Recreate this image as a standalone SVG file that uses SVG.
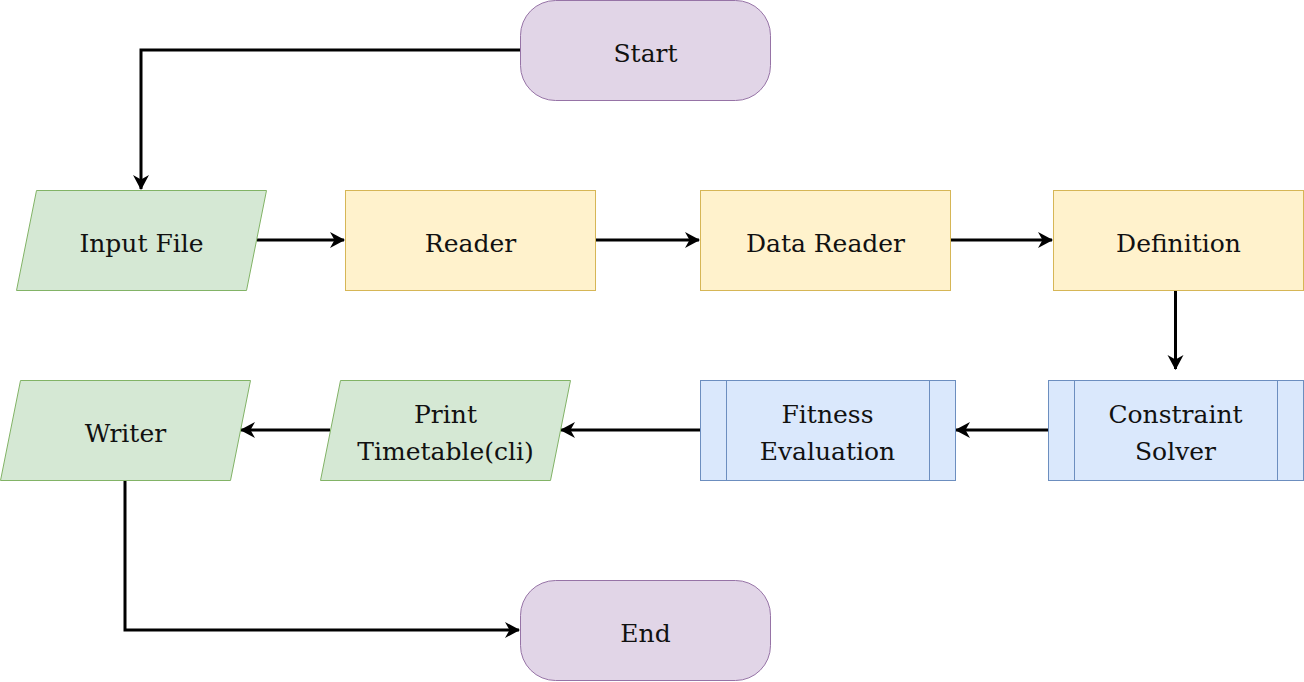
<svg xmlns="http://www.w3.org/2000/svg" width="1304" height="682" viewBox="0 0 1304 682">
<defs>
<style>
.t{font-family:"DejaVu Serif","Liberation Serif",serif;font-size:25px;fill:#111;text-anchor:middle}
.p{fill:#e1d5e7;stroke:#9673a6;stroke-width:1}
.g{fill:#d5e8d4;stroke:#82b366;stroke-width:1}
.y{fill:#fff2cc;stroke:#d6b656;stroke-width:1}
.b{fill:#dae8fc;stroke:#6c8ebf;stroke-width:1}
.c{fill:none;stroke:#000;stroke-width:3}
</style>
<marker id="a" markerUnits="userSpaceOnUse" viewBox="0 0 15 17" refX="14" refY="8.5" markerWidth="15" markerHeight="17" orient="auto">
<path d="M0,0.5 L15,8.5 L0,16.5 L4.5,8.5 Z" fill="#000"/>
</marker>
</defs>
<g id="connectors">
<path class="c" d="M520,50 H141 V189" marker-end="url(#a)"/>
<path class="c" d="M257,240 H344" marker-end="url(#a)"/>
<path class="c" d="M595,240 H699" marker-end="url(#a)"/>
<path class="c" d="M950,240 H1052" marker-end="url(#a)"/>
<path class="c" d="M1175.5,290 V369" marker-end="url(#a)"/>
<path class="c" d="M1048,430 H956" marker-end="url(#a)"/>
<path class="c" d="M700,430 H561" marker-end="url(#a)"/>
<path class="c" d="M330,430 H241" marker-end="url(#a)"/>
<path class="c" d="M125,480 V630 H519" marker-end="url(#a)"/>
</g>
<g id="start">
<rect class="p" x="520.5" y="0.5" width="250" height="100" rx="35" ry="35"/>
<text class="t" x="645.5" y="61.5">Start</text>
</g>
<g id="input-file">
<polygon class="g" points="36.5,190.5 266.5,190.5 246.5,290.5 16.5,290.5"/>
<text class="t" x="141.5" y="251.5">Input File</text>
</g>
<g id="reader">
<rect class="y" x="345.5" y="190.5" width="250" height="100"/>
<text class="t" x="470.5" y="251.5">Reader</text>
</g>
<g id="data-reader">
<rect class="y" x="700.5" y="190.5" width="250" height="100"/>
<text class="t" x="825.5" y="251.5">Data Reader</text>
</g>
<g id="definition">
<rect class="y" x="1053.5" y="190.5" width="250" height="100"/>
<text class="t" x="1178.5" y="251.5">Definition</text>
</g>
<g id="constraint-solver">
<rect class="b" x="1048.5" y="380.5" width="255" height="100"/>
<line class="b" x1="1074.5" y1="380.5" x2="1074.5" y2="480.5"/>
<line class="b" x1="1277.5" y1="380.5" x2="1277.5" y2="480.5"/>
<text class="t" x="1175.5" y="423">Constraint</text>
<text class="t" x="1175.5" y="460">Solver</text>
</g>
<g id="fitness-evaluation">
<rect class="b" x="700.5" y="380.5" width="255" height="100"/>
<line class="b" x1="726.5" y1="380.5" x2="726.5" y2="480.5"/>
<line class="b" x1="929.5" y1="380.5" x2="929.5" y2="480.5"/>
<text class="t" x="827.5" y="423">Fitness</text>
<text class="t" x="827.5" y="460">Evaluation</text>
</g>
<g id="print-timetable">
<polygon class="g" points="340.5,380.5 570.5,380.5 550.5,480.5 320.5,480.5"/>
<text class="t" x="445.5" y="423">Print</text>
<text class="t" x="445.5" y="460">Timetable(cli)</text>
</g>
<g id="writer">
<polygon class="g" points="20.5,380.5 250.5,380.5 230.5,480.5 0.5,480.5"/>
<text class="t" x="125.5" y="441.5">Writer</text>
</g>
<g id="end">
<rect class="p" x="520.5" y="580.5" width="250" height="100" rx="35" ry="35"/>
<text class="t" x="645.5" y="641.5">End</text>
</g>
</svg>
